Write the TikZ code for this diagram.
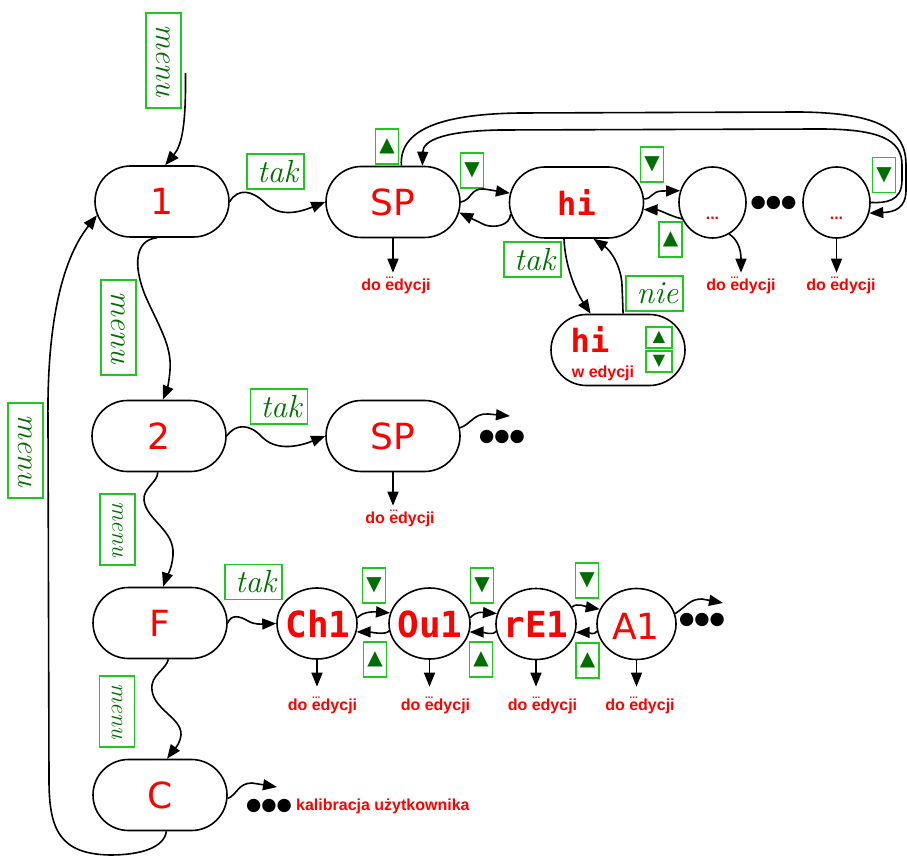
\documentclass[tikz,border=0pt]{standalone}
\usepackage{fontspec}
\usetikzlibrary{shapes.misc,shapes.geometric,arrows.meta}
\newfontfamily\dvsans{DejaVu Sans}
\newfontfamily\dvmono{DejaVu Sans Mono}
\newfontfamily\arialf{Liberation Sans}
\definecolor{gbord}{RGB}{30,200,30}
\definecolor{gtxt}{RGB}{0,110,0}
\definecolor{rd}{RGB}{255,0,0}
\newcommand\doed{do {\rlap{\hspace{0.2pt}\raisebox{0.74em}{\fontsize{10}{10}\selectfont ...}}}edycji}
\tikzset{
 stad/.style={rounded rectangle, draw, line width=1.6pt, minimum width=134pt, minimum height=71pt, inner sep=0pt, font=\dvsans\fontsize{36}{36}\selectfont, text=rd},
 oval/.style={ellipse, draw, line width=1.6pt, minimum width=80pt, minimum height=71pt, inner sep=0pt},
 seg/.style={font=\dvmono\bfseries\fontsize{36}{36}\selectfont, text=rd, inner sep=0pt},
 sseg/.style={font=\dvmono\bfseries\fontsize{32}{32}\selectfont, text=rd, inner sep=0pt},
 big/.style={font=\dvsans\fontsize{36}{36}\selectfont, text=rd, inner sep=0pt},
 lab/.style={draw=gbord, line width=1.4pt, inner sep=0pt, text=gtxt, font=\itshape\fontsize{32}{32}\selectfont},
 vlab/.style={lab, rotate=-90, minimum width=95pt, minimum height=35pt, font=\itshape\fontsize{31}{31}\selectfont},
 svlab/.style={lab, rotate=-90, minimum width=71pt, minimum height=35pt, font=\itshape\fontsize{24}{24}\selectfont},
 hlab/.style={lab, minimum width=57pt, minimum height=35pt},
 btn/.style={draw=gbord, line width=1.4pt, inner sep=0pt, minimum width=23pt, minimum height=35pt, text=gtxt, font=\dvsans\fontsize{20}{20}\selectfont},
 sbtn/.style={btn, minimum width=26pt, minimum height=21pt, font=\dvsans\fontsize{16}{16}\selectfont},
 edy/.style={text=rd, font=\arialf\bfseries\fontsize{16}{16}\selectfont, inner sep=1pt, outer ysep=3pt},
 bigdots/.style={font=\dvsans\fontsize{17.5}{17.5}\selectfont, inner sep=0pt},
 arr/.style={line width=1.6pt, -{Triangle[length=14pt,width=11pt]}},
}
\begin{document}
\begin{tikzpicture}[x=1pt,y=-1pt]
\useasboundingbox (0,0) rectangle (907,858);

% ---------- main column ----------
\node[stad] (n1) at (162,201.5) {1};
\node[stad] (n2) at (159,436) {2};
\node[stad] (nF) at (160,623) {F};
\node[stad] (nC) at (160,795) {C};

\node[vlab] (m0) at (163.5,60.5) {menu};
\node[vlab] (m1) at (118.5,327.5) {menu};
\node[svlab] (m2) at (117.5,529.5) {menu};
\node[svlab] (m3) at (117,711.5) {menu};
\node[vlab] (mL) at (25.5,450.5) {menu};

\node[hlab] (t1) at (275.5,171.5) {\hspace{4pt}tak};
\node[hlab] (t2) at (279,406.5) {\hspace{4pt}tak};
\node[hlab] (t3) at (253.5,582) {\hspace{4pt}tak};
\node[hlab] (t4) at (532.5,259.5) {\hspace{4pt}tak};
\node[hlab] (tn) at (654.5,293.5) {\hspace{6pt}nie};

% ---------- row 1 ----------
\node[stad] (sp1) at (393,202) {SP};
\node[stad,sseg] (hi) at (576.5,202.5) {hi};
\node[oval, minimum width=67pt] (c1) at (712.5,202.5) {};
\node[oval, minimum width=67pt] (c2) at (836.5,202.5) {};
\node[edy, outer ysep=0pt] (c1t) at (712.5,218) {...};
\node[edy, outer ysep=0pt] (c2t) at (836.5,218) {...};
\node[bigdots] (dd1) at (773.5,203) {●●●};

\node[btn] (usp) at (387,146.5) {▲};
\node[btn] (dsp) at (472,170.5) {▼};
\node[btn] (dhi) at (652,164.5) {▼};
\node[btn] (uhi) at (670.5,239.5) {▲};
\node[btn] (dc2) at (884,175) {▼};

\node[edy] (esp1) at (396,285) {\doed};
\node[edy] (ec1) at (741,285) {\doed};
\node[edy] (ec2) at (841,285) {\doed};

% edit node
\node[stad] (wed) at (618,350) {};
\node[sseg] (hiw) at (590,339.5) {hi};
\node[edy, outer ysep=0pt] (wtx) at (603,373) {w edycji};
\node[sbtn] (wup) at (659,337.5) {▲};
\node[sbtn] (wdn) at (659,361.5) {▼};

% ---------- row 2 ----------
\node[stad] (sp2) at (393,436) {SP};
\node[edy] (esp2) at (400,518) {\doed};
\node[bigdots] (dd2) at (502,437) {●●●};
\coordinate (sp2e) at (510,416);

% ---------- row 3 ----------
\node[oval] (ch1) at (317,623.5) {};
\node[oval, minimum width=81pt] (ou1) at (429.5,623.5) {};
\node[oval] (re1) at (536,624) {};
\node[oval, minimum width=79pt] (a1) at (636.5,624) {};
\node[seg] (ch1t) at (318,624) {Ch1};
\node[seg] (ou1t) at (430,624) {Ou1};
\node[seg] (re1t) at (536,624) {rE1};
\node[big] (a1t) at (636,626) {A1};

\node[btn] (d1) at (374,585.5) {▼};
\node[btn] (u1) at (375,659.5) {▲};
\node[btn] (d2) at (482,585.5) {▼};
\node[btn] (u2) at (481,659.5) {▲};
\node[btn] (d3) at (587,580.5) {▼};
\node[btn] (u3) at (587.5,660.5) {▲};

\node[edy, outer ysep=9pt] (ech1) at (322.5,705) {\doed};
\node[edy, outer ysep=9pt] (eou1) at (435.5,705) {\doed};
\node[edy, outer ysep=9pt] (ere1) at (542.5,705) {\doed};
\node[edy, outer ysep=9pt] (ea1) at (640,705) {\doed};
\node[bigdots] (dd3) at (702,620) {●●●};
\coordinate (a1e) at (723,603);

% ---------- row 4 ----------
\node[bigdots] (dd4) at (269,806) {●●●};
\node[edy, outer ysep=0pt, anchor=west] (kal) at (295,806) {kalibracja użytkownika};
\coordinate (cEnd) at (277,787);
\coordinate (m0s) at (185.5,73);

% ---------- connectors ----------
\draw[arr] (m0s) .. controls (186,125) and (182,145) .. (n1.85);
\draw[arr] (n1.262) .. controls (135,240) and (133,265) .. (145,295)
   .. controls (158,325) and (172,345) .. (170,370)
   .. controls (169,385) and (166,392) .. (n2.84);
\draw[arr] (n2.268) .. controls (158,482) and (143,488) .. (144,500)
   .. controls (146,520) and (175,530) .. (173,555)
   .. controls (172,570) and (166,578) .. (nF.85);
\draw[arr] (nF.283) .. controls (166,670) and (150,675) .. (152,690)
   .. controls (154,710) and (182,718) .. (181,735)
   .. controls (180,745) and (172,752) .. (nC.79);
\draw[arr] (nC.280) .. controls (164,848) and (140,855) .. (110,855)
   .. controls (60,854) and (49,830) .. (49,780) -- (48,420)
   .. controls (47,330) and (60,262) .. (n1.192);

\draw[arr] (n1.east) .. controls (238,188) and (252,190) .. (265,203)
   .. controls (280,218) and (300,212) .. (sp1.west);
\draw[arr] (n2.east) .. controls (236,423) and (250,424) .. (262,437)
   .. controls (275,450) and (295,448) .. (sp2.west);
\draw[arr] (nF.east) .. controls (231,614) and (240,616) .. (248,621)
   .. controls (255,625) and (262,624) .. (ch1.west);
\draw[arr] (nC.357) .. controls (237,795) and (238,783) .. (252,783) -- (cEnd);

% row 1
\draw[arr] (sp1.east) .. controls (472,200) and (470,188) .. (484,189) -- (hi.172);
\draw[arr] (hi.190) .. controls (510,226) and (494,228) .. (485,225) -- (sp1.351);
\draw[arr] (hi.3) .. controls (652,199) and (652,191) .. (662,191) -- (c1.160);
\draw[arr] (c1.208) .. controls (670,216) and (660,210) .. (hi.354);
\draw[arr] (sp1.77) .. controls (399,130) and (440,114) .. (520,113) -- (800,112)
   .. controls (880,113) and (906,130) .. (906,165) -- (906,190)
   .. controls (906,208) and (895,212) .. (c2.342);
\draw[arr] (c2.east) .. controls (885,203) and (902,202) .. (902,180) -- (902,165)
   .. controls (902,140) and (880,129) .. (820,129) -- (500,130)
   .. controls (445,131) and (423,140) .. (sp1.51);
\draw[arr] (sp1.south) -- (sp1.south |- esp1.north);
\draw[arr] (c1.298) .. controls (738,240) and (741,250) .. (ec1.north);
\draw[arr] (c2.south) -- (c2.south |- ec2.north);
\draw[arr] (hi.251) .. controls (565,265) and (575,290) .. (wed.127);
\draw[arr] (wed.82) -- (622,285) .. controls (621,265) and (610,250) .. (hi.295);

% row 2
\draw[arr] (sp2.7) .. controls (470,425) and (474,413) .. (488,414) -- (sp2e);
\draw[arr] (sp2.south) -- (sp2.south |- esp2.north);

% row 3
\draw[arr] (ch1.8) .. controls +(6,-7) and +(-14,-1) .. (ou1.165);
\draw[arr] (ou1.190) .. controls +(-2,5) and +(12,0) .. (ch1.348);
\draw[arr] (ou1.8) .. controls +(6,-7) and +(-14,-1) .. (re1.165);
\draw[arr] (re1.190) .. controls +(-2,5) and +(12,0) .. (ou1.348);
\draw[arr] (re1.25) .. controls +(4,-5) and +(-12,-2) .. (a1.158);
\draw[arr] (a1.190) .. controls +(-2,5) and +(12,0) .. (re1.348);
\draw[arr] (a1.15) .. controls (688,605) and (690,599) .. (702,599) -- (a1e);
\draw[arr] (ch1.south) -- (ch1.south |- ech1.north);
\draw[arr] (ou1.south) -- (ou1.south |- eou1.north);
\draw[arr] (re1.south) -- (re1.south |- ere1.north);
\draw[arr] (a1.south) -- (a1.south |- ea1.north);
\end{tikzpicture}
\end{document}
